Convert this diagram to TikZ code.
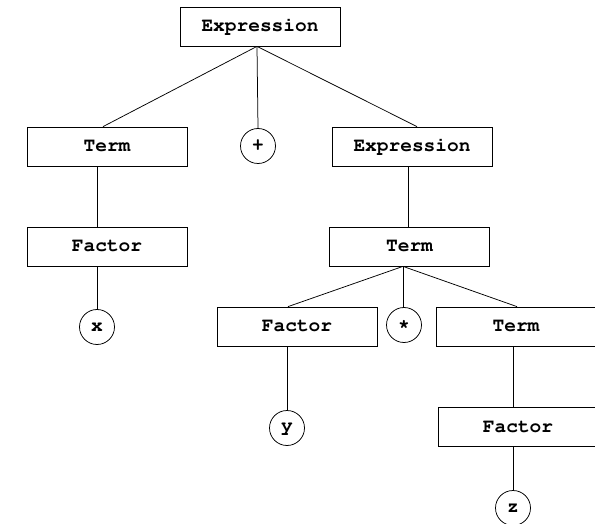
\documentclass[tikz,border=0pt]{standalone}
\usepackage[T1,TU]{fontenc}
\newcommand{\courfont}{\fontencoding{T1}\fontfamily{pcr}\fontseries{b}\fontshape{n}\fontsize{19.5}{22}\selectfont}
\tikzset{
  box/.style={draw, line width=0.75pt, minimum width=160pt, minimum height=39pt, inner sep=0pt, font=\courfont},
  leaf/.style={draw, circle, line width=0.75pt, minimum size=35pt, inner sep=0pt, font=\courfont},
  edge/.style={line width=0.75pt}
}
\begin{document}
\begin{tikzpicture}[x=1pt,y=-1pt]
\useasboundingbox (0,0) rectangle (595,524);
\clip (0,0) rectangle (595,524);
\fill[white] (0,0) rectangle (595,524);
\node[box] (E1) at (260,26.5) {Expression};
\node[box] (T1) at (107,146.5) {Term};
\node[leaf] (plus) at (258,146) {+};
\node[box] (E2) at (412,146.5) {Expression};
\node[box] (F1) at (107,246.5) {Factor};
\node[leaf] (xc) at (97,327) {x};
\node[box] (T2) at (409.5,246.5) {Term};
\node[box] (F2) at (297,326.5) {Factor};
\node[leaf] (star) at (404,325) {*};
\node[box] (T3) at (516,326.5) {Term};
\node[leaf] (yc) at (287,428) {y};
\node[box] (F3) at (518,427) {Factor};
\node[leaf] (zc) at (513,508) {z};
\coordinate (e1s) at ([xshift=-3pt]E1.south);
\draw[edge] (e1s) -- ([xshift=-4pt]T1.north);
\draw[edge] (e1s) -- (plus.north);
\draw[edge] (e1s) -- ([xshift=5pt]E2.north);
\draw[edge] (T1.south -| xc) -- (F1.north -| xc);
\draw[edge] (F1.south -| xc) -- (xc.north);
\draw[edge] ([xshift=-4pt]E2.south) -- ([xshift=-4pt]E2.south |- T2.north);
\coordinate (t2s) at ([xshift=-6.5pt]T2.south);
\draw[edge] (t2s) -- ([xshift=-9pt]F2.north);
\draw[edge] (t2s) -- (t2s |- star.north);
\draw[edge] (t2s) -- ([xshift=1pt]T3.north);
\draw[edge] (F2.south -| yc) -- (yc.north);
\draw[edge] (T3.south -| zc) -- (F3.north -| zc);
\draw[edge] (F3.south -| zc) -- (zc.north);
\end{tikzpicture}
\end{document}
